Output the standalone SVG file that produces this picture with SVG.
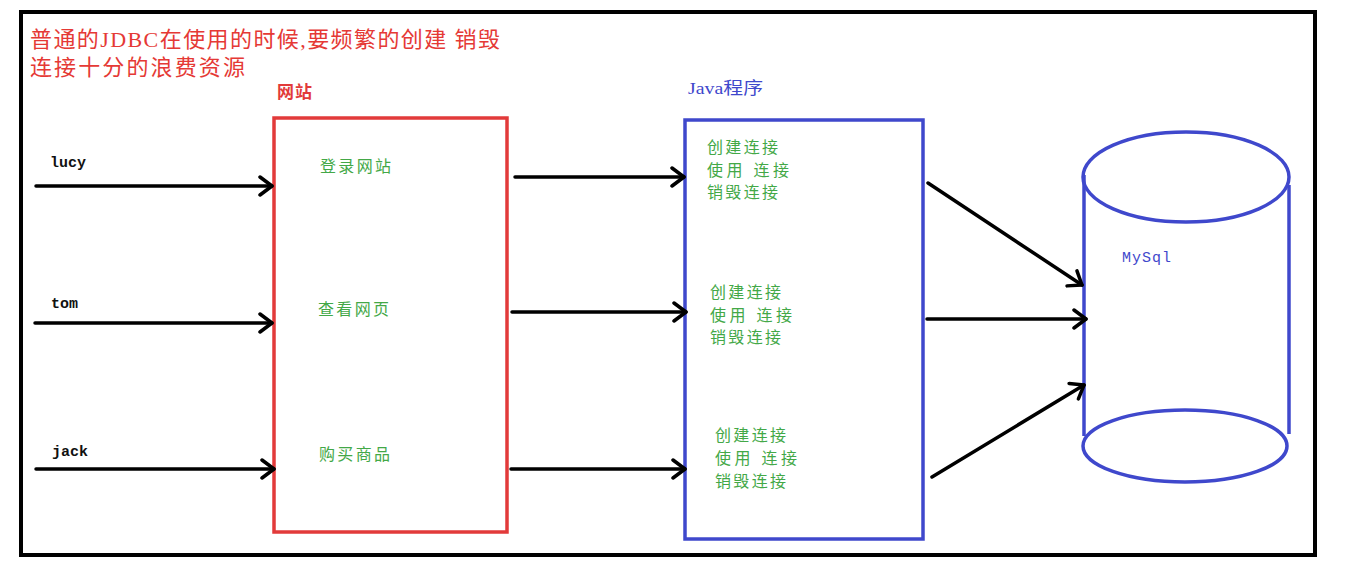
<svg xmlns="http://www.w3.org/2000/svg" width="1350" height="576" viewBox="0 0 1350 576">
<style>
.frame{fill:none;stroke:#000;stroke-width:4}
.conn{stroke:#000;stroke-width:3.5;fill:none;stroke-linecap:round;marker-end:url(#arr)}
.title{fill:#e53935;font-family:"Liberation Serif","Noto Sans CJK SC",serif;font-size:22px}
.lbl{font-family:"Liberation Serif","Noto Sans CJK SC",serif;font-size:17px;font-weight:bold}
.user{fill:#111;font-family:"Liberation Mono","Noto Sans CJK SC",monospace;font-size:15px;font-weight:bold}
.green{fill:#43a847;font-family:"Liberation Serif","Noto Sans CJK SC",serif;font-size:16px}
.red{fill:none;stroke:#e23a3a;stroke-width:3.5}
.blue{fill:none;stroke:#3f48cc;stroke-width:3.5}
</style>
<defs>
<marker id="arr" markerWidth="18" markerHeight="22" refX="15" refY="11" orient="auto" markerUnits="userSpaceOnUse">
<path d="M3,2 L15,11 L3,20" fill="none" stroke="#000" stroke-width="3.5" stroke-linecap="round" stroke-linejoin="round"/>
</marker>
</defs>
<rect x="0" y="0" width="1350" height="576" fill="#fff"/>
<rect class="frame" x="21" y="12" width="1294" height="543"/>
<g id="title">
<text class="title" x="30" y="47" textLength="470" lengthAdjust="spacing">普通的JDBC在使用的时候,要频繁的创建 销毁</text>
<text class="title" x="30" y="75" textLength="215" lengthAdjust="spacing">连接十分的浪费资源</text>
</g>
<g id="users">
<text class="user" x="50" y="167">lucy</text>
<text class="user" x="51" y="308">tom</text>
<text class="user" x="52" y="456">jack</text>
</g>
<g id="website">
<text class="lbl" x="277" y="98" fill="#e23a3a" textLength="35" lengthAdjust="spacing">网站</text>
<rect class="red" x="274" y="118" width="233" height="414"/>
<text class="green" x="320" y="172" textLength="71" lengthAdjust="spacing">登录网站</text>
<text class="green" x="318" y="315" textLength="71" lengthAdjust="spacing">查看网页</text>
<text class="green" x="319" y="460" textLength="71" lengthAdjust="spacing">购买商品</text>
</g>
<g id="java">
<text class="lbl" x="688" y="94" fill="#3f48cc" style="font-weight:normal" textLength="75" lengthAdjust="spacingAndGlyphs">Java程序</text>
<rect class="blue" x="685" y="120" width="238" height="419"/>
<text class="green" x="707" y="153" textLength="71" lengthAdjust="spacing">创建连接</text>
<text class="green" x="707" y="176" textLength="82" lengthAdjust="spacing">使用 连接</text>
<text class="green" x="707" y="198" textLength="71" lengthAdjust="spacing">销毁连接</text>
<text class="green" x="710" y="298" textLength="71" lengthAdjust="spacing">创建连接</text>
<text class="green" x="710" y="321" textLength="82" lengthAdjust="spacing">使用 连接</text>
<text class="green" x="710" y="343" textLength="71" lengthAdjust="spacing">销毁连接</text>
<text class="green" x="715" y="441" textLength="71" lengthAdjust="spacing">创建连接</text>
<text class="green" x="715" y="464" textLength="82" lengthAdjust="spacing">使用 连接</text>
<text class="green" x="715" y="487" textLength="71" lengthAdjust="spacing">销毁连接</text>
</g>
<g id="mysql">
<line class="blue" x1="1084" y1="175" x2="1084" y2="436"/>
<line class="blue" x1="1289" y1="185" x2="1289" y2="434"/>
<ellipse class="blue" cx="1186" cy="177" rx="103" ry="45"/>
<ellipse class="blue" cx="1185" cy="446" rx="102" ry="36"/>
<text x="1122" y="262" fill="#3f48cc" font-family="Liberation Mono, monospace" font-size="15" textLength="49" lengthAdjust="spacing">MySql</text>
</g>
<g id="connectors">
<line class="conn" x1="36" y1="186" x2="272" y2="186"/>
<line class="conn" x1="35" y1="323" x2="272" y2="323"/>
<line class="conn" x1="36" y1="469" x2="274" y2="469"/>
<line class="conn" x1="515" y1="177" x2="684" y2="177"/>
<line class="conn" x1="512" y1="312" x2="686" y2="312"/>
<line class="conn" x1="511" y1="469" x2="685" y2="469"/>
<line class="conn" x1="928" y1="183" x2="1082" y2="285"/>
<line class="conn" x1="927" y1="319" x2="1086" y2="319"/>
<line class="conn" x1="932" y1="477" x2="1084" y2="385"/>
</g>
</svg>
